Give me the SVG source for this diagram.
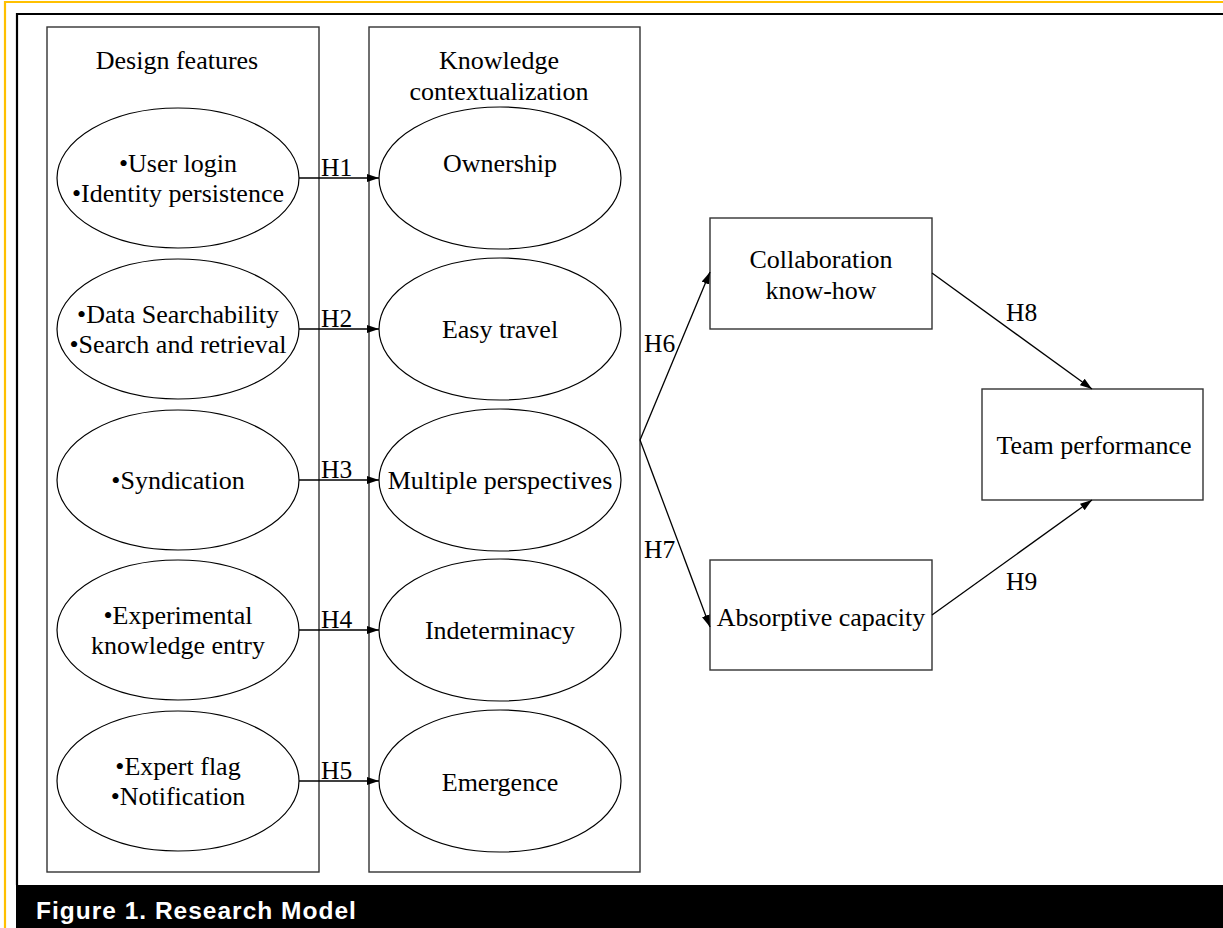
<svg xmlns="http://www.w3.org/2000/svg" width="1223" height="928" viewBox="0 0 1223 928">
<style>
.t{font-family:"Liberation Serif","Times New Roman",serif;font-size:26px;fill:#000;text-anchor:middle}
.h{font-family:"Liberation Serif","Times New Roman",serif;font-size:25.5px;fill:#000}
.box{fill:none;stroke:#333;stroke-width:1.4}
.ell{fill:#fff;stroke:#000;stroke-width:1.2}
.con{fill:none;stroke:#000;stroke-width:1.3}
.cap{font-family:"Liberation Sans",Arial,sans-serif;font-size:24.5px;font-weight:bold;fill:#fff;letter-spacing:1px}
</style>
<defs>
<marker id="ah" markerUnits="userSpaceOnUse" markerWidth="13" markerHeight="9" refX="12" refY="4.5" orient="auto">
<path d="M0,0.5 L12,4.5 L0,8.5 z" fill="#000"/>
</marker>
</defs>
<rect width="1223" height="928" fill="#fff"/>
<g id="frame">
<path d="M5,928 V2 H1223" fill="none" stroke="#FFC000" stroke-width="2.2"/>
<path d="M17,885 V14 H1223" fill="none" stroke="#000" stroke-width="2.2"/>
<rect x="16" y="885" width="1207" height="43" fill="#000"/>
<text class="cap" x="36" y="919">Figure 1. Research Model</text>
</g>
<g id="design-features">
<rect class="box" x="47" y="27" width="272" height="845"/>
<text class="t" x="177" y="69">Design features</text>
</g>
<g id="knowledge-contextualization">
<rect class="box" x="369" y="27" width="271" height="845"/>
<text class="t" x="499" y="69">Knowledge</text>
<text class="t" x="499" y="100">contextualization</text>
</g>
<g id="df1">
<ellipse class="ell" cx="178" cy="178" rx="121" ry="70"/>
<text class="t" x="178" y="172">•User login</text>
<text class="t" x="178" y="202">•Identity persistence</text>
</g>
<g id="df2">
<ellipse class="ell" cx="178" cy="329" rx="121" ry="70"/>
<text class="t" x="178" y="323">•Data Searchability</text>
<text class="t" x="178" y="353">•Search and retrieval</text>
</g>
<g id="df3">
<ellipse class="ell" cx="178" cy="480" rx="121" ry="70"/>
<text class="t" x="178" y="489">•Syndication</text>
</g>
<g id="df4">
<ellipse class="ell" cx="178" cy="630" rx="121" ry="70"/>
<text class="t" x="178" y="624">•Experimental</text>
<text class="t" x="178" y="654">knowledge entry</text>
</g>
<g id="df5">
<ellipse class="ell" cx="178" cy="781" rx="121" ry="70"/>
<text class="t" x="178" y="775">•Expert flag</text>
<text class="t" x="178" y="805">•Notification</text>
</g>
<g id="kc1">
<ellipse class="ell" cx="500" cy="178" rx="121" ry="71"/>
<text class="t" x="500" y="172">Ownership</text>
</g>
<g id="kc2">
<ellipse class="ell" cx="500" cy="329" rx="121" ry="71"/>
<text class="t" x="500" y="338">Easy travel</text>
</g>
<g id="kc3">
<ellipse class="ell" cx="500" cy="480" rx="121" ry="71"/>
<text class="t" x="500" y="489">Multiple perspectives</text>
</g>
<g id="kc4">
<ellipse class="ell" cx="500" cy="630" rx="121" ry="71"/>
<text class="t" x="500" y="639">Indeterminacy</text>
</g>
<g id="kc5">
<ellipse class="ell" cx="500" cy="781" rx="121" ry="71"/>
<text class="t" x="500" y="791">Emergence</text>
</g>
<g id="collab">
<rect class="box" x="710" y="218" width="222" height="111"/>
<text class="t" x="821" y="268">Collaboration</text>
<text class="t" x="821" y="299">know-how</text>
</g>
<g id="absorptive">
<rect class="box" x="710" y="560" width="222" height="110"/>
<text class="t" x="821" y="626">Absorptive capacity</text>
</g>
<g id="team">
<rect class="box" x="982" y="389" width="221" height="111"/>
<text class="t" x="1094" y="454">Team performance</text>
</g>
<g id="connectors">
<line class="con" x1="299" y1="178" x2="379" y2="178" marker-end="url(#ah)"/>
<line class="con" x1="299" y1="329" x2="379" y2="329" marker-end="url(#ah)"/>
<line class="con" x1="299" y1="480" x2="379" y2="480" marker-end="url(#ah)"/>
<line class="con" x1="299" y1="630" x2="379" y2="630" marker-end="url(#ah)"/>
<line class="con" x1="299" y1="781" x2="379" y2="781" marker-end="url(#ah)"/>
<line class="con" x1="640" y1="440" x2="710" y2="272" marker-end="url(#ah)"/>
<line class="con" x1="640" y1="440" x2="710" y2="627" marker-end="url(#ah)"/>
<line class="con" x1="932" y1="273" x2="1092" y2="389" marker-end="url(#ah)"/>
<line class="con" x1="932" y1="615" x2="1092" y2="500" marker-end="url(#ah)"/>
<text class="h" x="321" y="176">H1</text>
<text class="h" x="321" y="327">H2</text>
<text class="h" x="321" y="478">H3</text>
<text class="h" x="321" y="628">H4</text>
<text class="h" x="321" y="779">H5</text>
<text class="h" x="644" y="352">H6</text>
<text class="h" x="644" y="558">H7</text>
<text class="h" x="1006" y="321">H8</text>
<text class="h" x="1006" y="590">H9</text>
</g>
</svg>
